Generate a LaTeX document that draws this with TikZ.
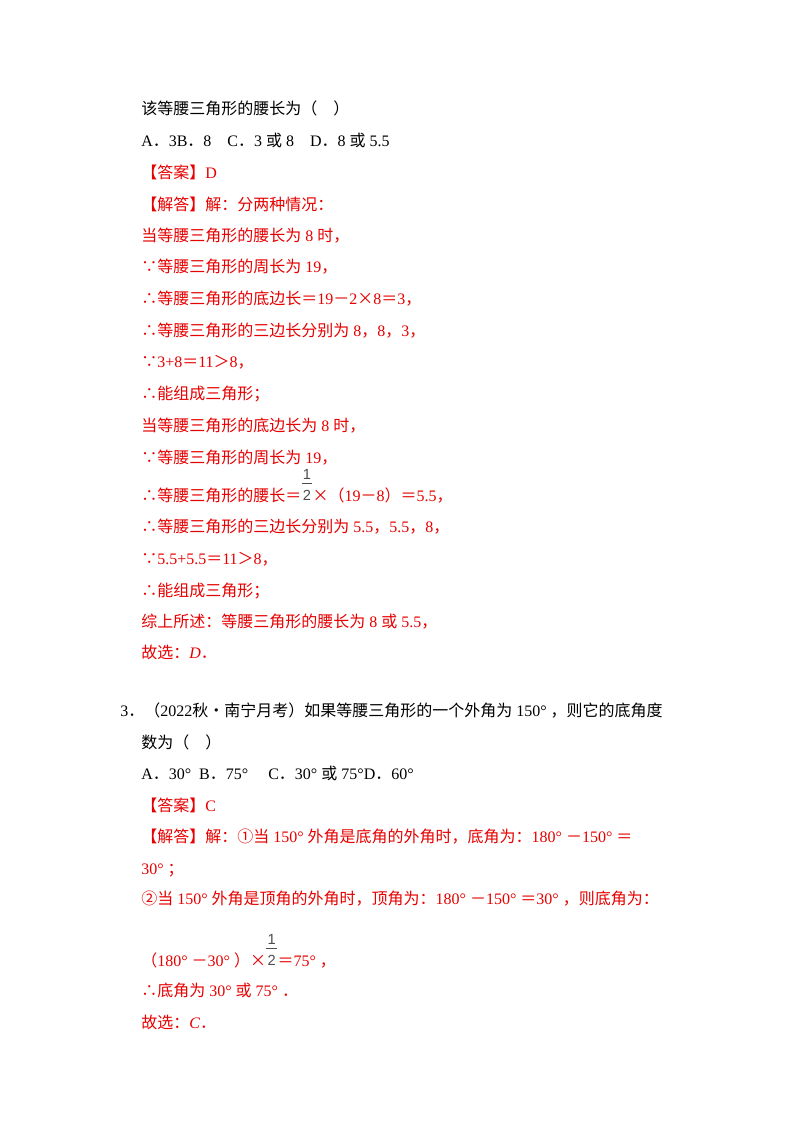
\documentclass[tikz,border=0pt]{standalone}
\usepackage{fontspec}
\setmainfont{Liberation Serif}
\newfontfamily\cjk{Noto Sans CJK SC}
\newfontfamily\fracfont{Liberation Sans}
\newcommand\zh[1]{{\cjk #1}}
\newcommand\s{\hspace{0.25em}}
\definecolor{ans}{RGB}{230,0,0}
\newcommand\half{\tikz[baseline=0pt,x=1pt,y=1pt]{\node[inner sep=0pt,anchor=base,font=\fracfont\fontsize{11}{11}\selectfont,text=black!70] at (0,16) {1};\draw[black!70,line width=0.6pt] (-4,13)--(4,13);\node[inner sep=0pt,anchor=base,font=\fracfont\fontsize{11}{11}\selectfont,text=black!70] at (0,0.5) {2};}}
\begin{document}
\begin{tikzpicture}[x=0.75pt,y=-0.75pt,
  ln/.style={anchor=base west,inner sep=0pt,font=\fontsize{12}{14}\selectfont},
  rd/.style={ln,text=ans}]
\useasboundingbox (0,0) rectangle (800,1132);
\node[ln] (l1) at (141,114) {\zh{该等腰三角形的腰长为（　）}};
\node[ln] (l2) at (141,146) {A\zh{．}3B\zh{．}8\quad C\zh{．}3\s\zh{或}\s8\quad D\zh{．}8\s\zh{或}\s5.5};
\node[rd] (l3) at (141,178) {\zh{【答案】}D};
\node[rd] (l4) at (141,210) {\zh{【解答】解：分两种情况：}};
\node[rd] (l5) at (141,241) {\zh{当等腰三角形的腰长为}\s8\s\zh{时，}};
\node[rd] (l6) at (141,272) {\zh{∵等腰三角形的周长为}\s19\zh{，}};
\node[rd] (l7) at (141,304) {\zh{∴等腰三角形的底边长＝}19\zh{－}2\zh{×}8\zh{＝}3\zh{，}};
\node[rd] (l8) at (141,336) {\zh{∴等腰三角形的三边长分别为}\s8\zh{，}8\zh{，}3\zh{，}};
\node[rd] (l9) at (141,367) {\zh{∵}3+8\zh{＝}11\zh{＞}8\zh{，}};
\node[rd] (l10) at (141,399) {\zh{∴能组成三角形；}};
\node[rd] (l11) at (141,431) {\zh{当等腰三角形的底边长为}\s8\s\zh{时，}};
\node[rd] (l12) at (141,463) {\zh{∵等腰三角形的周长为}\s19\zh{，}};
\node[rd] (l13) at (141,501) {\zh{∴等腰三角形的腰长＝}\half\zh{×（}19\zh{－}8\zh{）＝}5.5\zh{，}};
\node[rd] (l14) at (141,532) {\zh{∴等腰三角形的三边长分别为}\s5.5\zh{，}5.5\zh{，}8\zh{，}};
\node[rd] (l15) at (141,564) {\zh{∵}5.5+5.5\zh{＝}11\zh{＞}8\zh{，}};
\node[rd] (l16) at (141,596) {\zh{∴能组成三角形；}};
\node[rd] (l17) at (141,627) {\zh{综上所述：等腰三角形的腰长为}\s8\s\zh{或}\s5.5\zh{，}};
\node[rd] (l18) at (141,658) {\zh{故选：}\textit{D}\zh{．}};
\node[ln] (q1) at (120,716) {3\zh{．（}2022\zh{秋•南宁月考）如果等腰三角形的一个外角为}\s150°\s\zh{，则它的底角度}};
\node[ln] (q2) at (141,748) {\zh{数为（　）}};
\node[ln] (q3) at (141,779) {A\zh{．}30°\s\ B\zh{．}75°\quad\ C\zh{．}30°\s\zh{或}\s75°D\zh{．}60°};
\node[rd] (q4) at (141,811) {\zh{【答案】}C};
\node[rd] (q5) at (141,842) {\zh{【解答】解：①当}\s150°\s\zh{外角是底角的外角时，底角为：}180°\s\zh{－}150°\s\zh{＝}};
\node[rd] (q6) at (141,874) {30°\s\zh{；}};
\node[rd] (q7) at (141,904) {\zh{②当}\s150°\s\zh{外角是顶角的外角时，顶角为：}180°\s\zh{－}150°\s\zh{＝}30°\s\zh{，则底角为：}};
\node[rd] (q8) at (141,966) {\zh{（}180°\s\zh{－}30°\s\zh{）×}\half\zh{＝}75°\s\zh{，}};
\node[rd] (q9) at (141,996) {\zh{∴底角为}\s30°\s\zh{或}\s75°\s\zh{．}};
\node[rd] (q10) at (141,1028) {\zh{故选：}\textit{C}\zh{．}};
\end{tikzpicture}
\end{document}
